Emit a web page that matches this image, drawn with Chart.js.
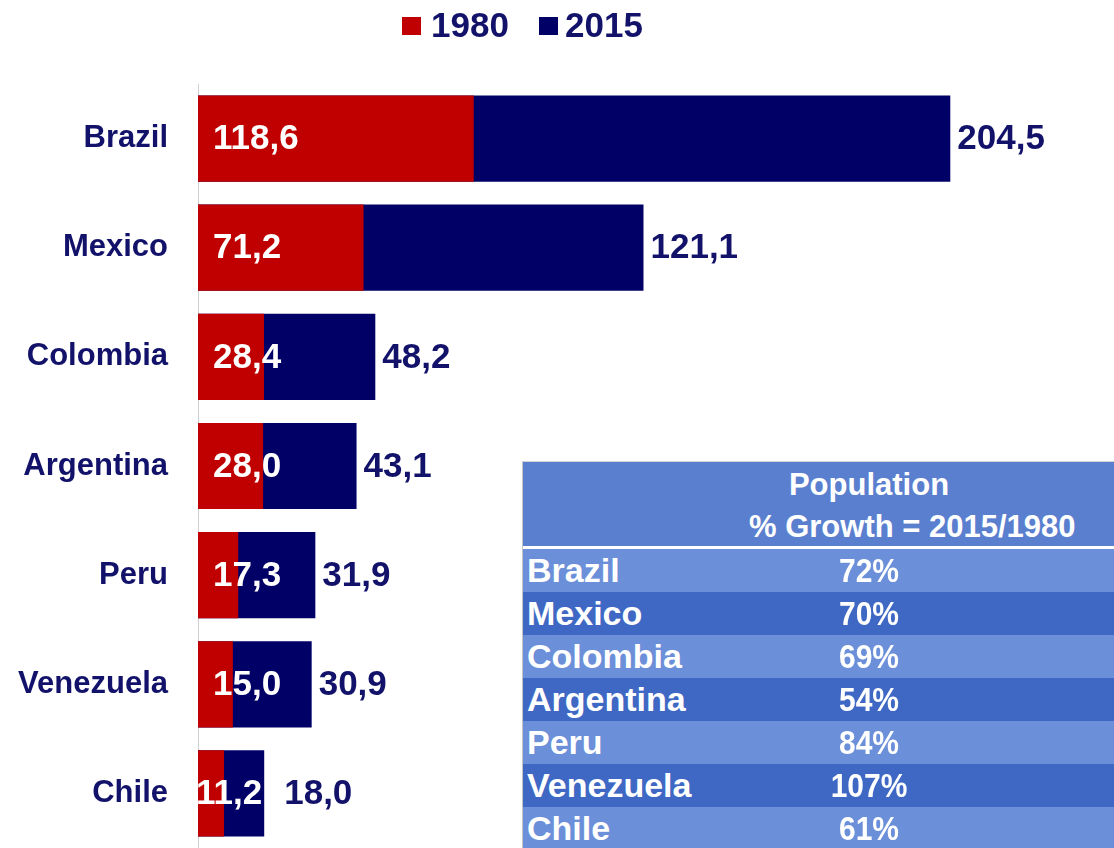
<!DOCTYPE html>
<html>
<head>
<meta charset="utf-8">
<script src="https://cdn.jsdelivr.net/npm/chart.js@4.4.0/dist/chart.umd.min.js"></script>
<style>
  html, body { margin: 0; padding: 0; background: #fff; overflow: hidden; }
  body { width: 1114px; height: 848px; position: relative; font-family: "Liberation Sans", Arial, sans-serif; }
  #chart { position: absolute; left: 0; top: 0; }
  .legend { position: absolute; top: 0; height: 52px; font-weight: bold; font-size: 35px; color: #12126a; }
  .legend span.box { position: absolute; top: 17px; width: 19px; height: 18px; }
  .legend span.txt { position: absolute; top: 5px; line-height: 40px; }
  #growth { position: absolute; left: 522px; top: 461px; width: 600px; height: 400px; overflow: hidden;
            border-left: 1px solid #c4c4c4; border-top: 1px solid #d4d4d4; color: #fff; font-weight: bold; }
  #growth .head { background: #5b7fcf; height: 84px; border-bottom: 3px solid #fff; position: relative; }
  #growth .head div { position: absolute; left: 226px; width: 240px; text-align: center; font-size: 31px; line-height: 40px; white-space: nowrap; }
  #growth .row { height: 43px; position: relative; }
  #growth .row .name { position: absolute; left: 4px; top: 0; font-size: 34px; line-height: 43px; }
  #growth .row .pct { position: absolute; left: 226px; width: 240px; top: 0; text-align: center; font-size: 30px; line-height: 43px; transform: scaleY(1.1); }
</style>
</head>
<body>
<canvas id="chart" width="1114" height="848"></canvas>
<div class="legend" id="legend"></div>
<div id="growth"></div>
<script>
const countries = ['Brazil', 'Mexico', 'Colombia', 'Argentina', 'Peru', 'Venezuela', 'Chile'];
const pop1980 = [118.6, 71.2, 28.4, 28.0, 17.3, 15.0, 11.2];
const pop2015 = [204.5, 121.1, 48.2, 43.1, 31.9, 30.9, 18.0];
const growthPct = ['72%', '70%', '69%', '54%', '84%', '107%', '61%'];
const seriesNames = ['1980', '2015'];

const RED = '#c00000';
const NAVY = '#000066';
const TEXT_NAVY = '#12126a';

// legend (html, positioned over the canvas)
const legend = document.getElementById('legend');
const legendPos = [[402, 431], [539, 565]];
seriesNames.forEach((name, i) => {
  legend.innerHTML += `<span class="box" style="left:${legendPos[i][0]}px;background:${i === 0 ? RED : NAVY}"></span>` +
    `<span class="txt" style="left:${legendPos[i][1]}px">${name}</span>`;
});

// growth table
const growth = document.getElementById('growth');
let html = '<div class="head"><div style="top:3px">Population</div><div style="top:45px">% Growth = 2015/1980</div></div>';
countries.forEach((c, i) => {
  const bg = i % 2 === 0 ? '#6b8fd8' : '#3e68c4';
  html += `<div class="row" style="background:${bg}"><span class="name">${c}</span><span class="pct">${growthPct[i]}</span></div>`;
});
growth.innerHTML = html;

const fmt = v => v.toFixed(1).replace('.', ',');

// value labels: 1980 inside near the base (pulled back if it would run past the 2015 bar),
// 2015 just past the bar end
const valueLabels = {
  id: 'valueLabels',
  afterDatasetsDraw(chart) {
    const ctx = chart.ctx;
    ctx.save();
    ctx.font = 'bold 35px "Liberation Sans", Arial, sans-serif';
    ctx.textBaseline = 'middle';
    ctx.textAlign = 'left';
    const m1980 = chart.getDatasetMeta(0);
    const m2015 = chart.getDatasetMeta(1);
    m2015.data.forEach((bar, i) => {
      const inner = m1980.data[i];
      const w1980 = ctx.measureText(fmt(pop1980[i])).width;
      const x1980 = Math.min(inner.base + 15, bar.x - w1980 - 2);
      const x2015 = Math.max(bar.x + 7, x1980 + w1980 + 22);
      ctx.fillStyle = TEXT_NAVY;
      ctx.fillText(fmt(pop2015[i]), x2015, bar.y + 1);
      ctx.fillStyle = '#ffffff';
      ctx.fillText(fmt(pop1980[i]), x1980, inner.y + 1);
    });
    ctx.restore();
  }
};

new Chart(document.getElementById('chart'), {
  type: 'bar',
  data: {
    labels: countries,
    datasets: [
      { label: seriesNames[0], data: pop1980, backgroundColor: RED, xAxisID: 'x2', grouped: false },
      { label: seriesNames[1], data: pop2015, backgroundColor: NAVY, xAxisID: 'x', grouped: false }
    ]
  },
  options: {
    indexAxis: 'y',
    responsive: false,
    animation: false,
    devicePixelRatio: 1,
    layout: { padding: { top: 84, right: 0, bottom: 0, left: 0 } },
    categoryPercentage: 0.79,
    barPercentage: 1,
    plugins: {
      legend: { display: false },
      tooltip: { enabled: false }
    },
    scales: {
      x: { display: false, min: 0, max: 249 },
      x2: { display: false, min: 0, max: 394, position: 'bottom' },
      y: {
        grid: { display: false, drawTicks: false },
        border: { display: true, color: '#d0d0d0', width: 1 },
        ticks: {
          color: TEXT_NAVY,
          padding: 30,
          font: { family: '"Liberation Sans", Arial, sans-serif', size: 31, weight: 'bold' }
        },
        afterFit(scale) {
          scale.width = 198;
          // no extra room above/below for the tick labels
          scale.paddingTop = 0;
          scale.paddingBottom = 0;
        }
      }
    }
  },
  plugins: [valueLabels]
});
</script>
</body>
</html>
